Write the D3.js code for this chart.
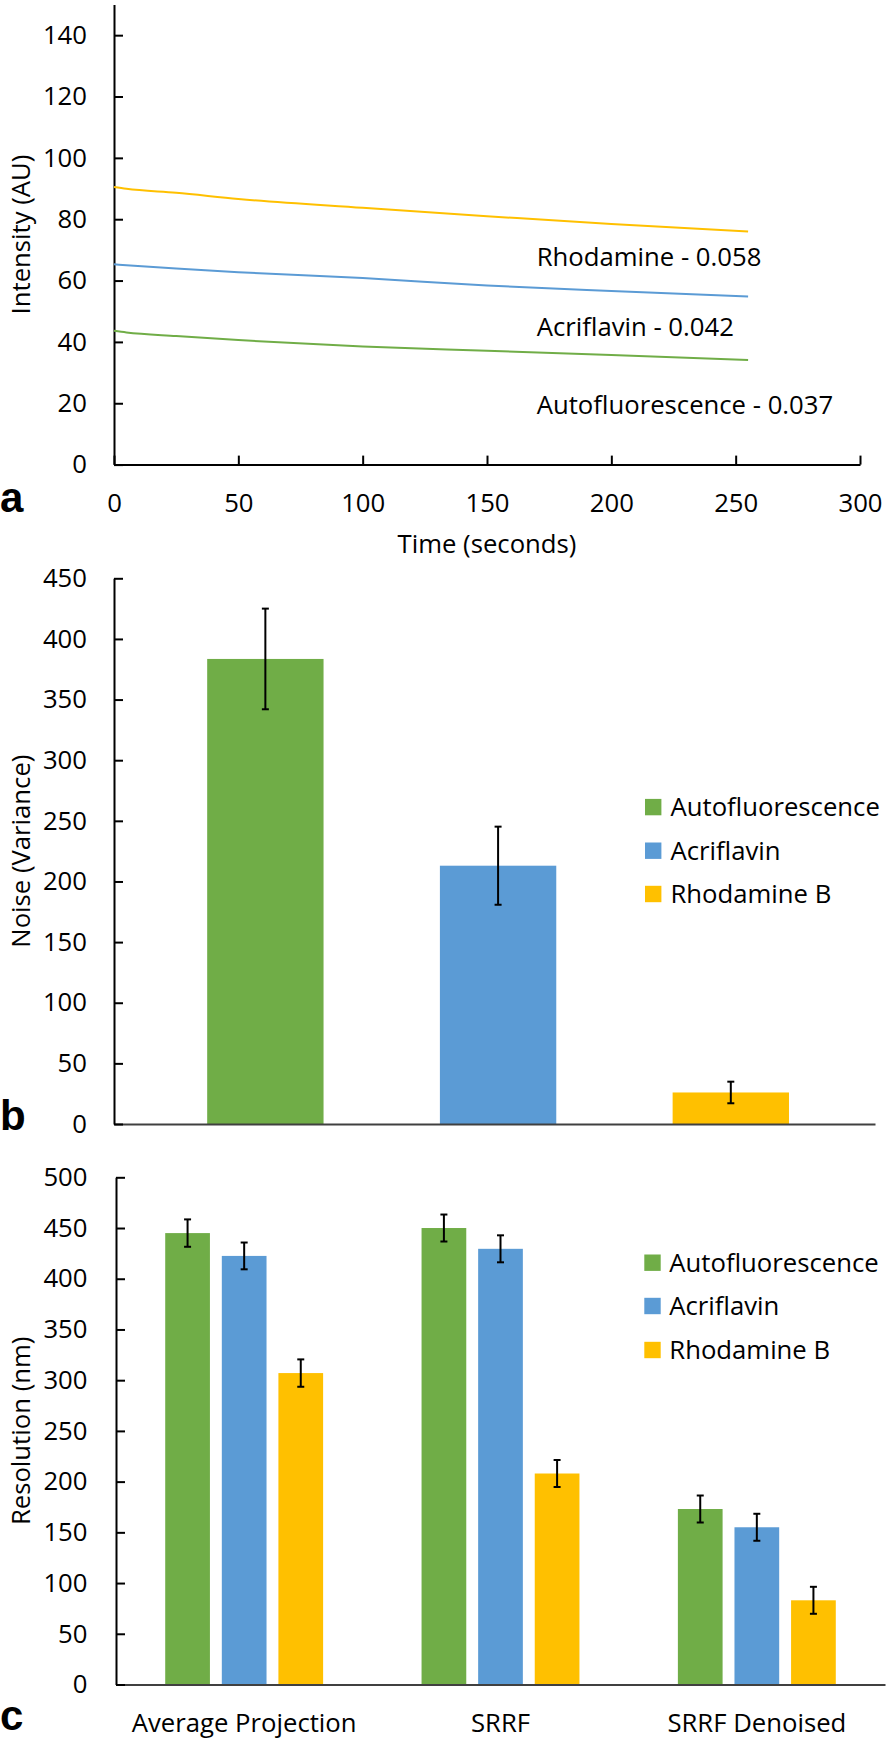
<!DOCTYPE html>
<html>
<head>
<meta charset="utf-8">
<script src="https://cdn.jsdelivr.net/npm/d3@7"></script>
<style>
  html, body { margin: 0; padding: 0; background: #fff; }
  svg { display: block; }
  text { font-family: "Open Sans", sans-serif; fill: #000; }
</style>
</head>
<body>
<svg id="chart" width="890" height="1740"></svg>
<script>
// ---------- Panel a data ----------
const timeSec = [0, 5, 25, 50, 100, 150, 200, 255];
const rhodamineIntensity = [90.5, 89.9, 88.6, 86.6, 83.7, 81.0, 78.4, 76.0];
const acriflavinIntensity = [65.3, 65.0, 63.9, 62.7, 60.8, 58.4, 56.6, 54.8];
const autofluorIntensity = [43.6, 43.1, 41.9, 40.6, 38.5, 37.1, 35.7, 34.1];
const decayLabels = ["Rhodamine - 0.058", "Acriflavin - 0.042", "Autofluorescence - 0.037"];
const intensityTicks = [0, 20, 40, 60, 80, 100, 120, 140];
const timeTicks = [0, 50, 100, 150, 200, 250, 300];

// ---------- Shared series ----------
const seriesNames = ["Autofluorescence", "Acriflavin", "Rhodamine B"];
const seriesColors = ["#70AD47", "#5B9BD5", "#FFC000"];

// ---------- Panel b data ----------
const noiseValues = [383.5, 213, 26];
const noiseErrors = [41.5, 32.2, 8.9];
const noiseTicks = [0, 50, 100, 150, 200, 250, 300, 350, 400, 450];

// ---------- Panel c data ----------
const methods = ["Average Projection", "SRRF", "SRRF Denoised"];
const resAutofluor = [445, 450, 173];
const resAcriflavin = [422.5, 429.5, 155];
const resRhodamine = [307, 208, 83];
const errAutofluor = [13.5, 13.3, 13.3];
const errAcriflavin = [13.2, 13.3, 13.3];
const errRhodamine = [13.5, 13.3, 13.3];
const resolutionTicks = [0, 50, 100, 150, 200, 250, 300, 350, 400, 450, 500];

const FS = 25.7;
const svg = d3.select("#chart");

function styleAxis(g, stroke) {
  g.selectAll("path.domain").attr("stroke", stroke || "#000").attr("stroke-width", 2);
  g.selectAll(".tick line").attr("stroke", "#000").attr("stroke-width", 2);
  g.selectAll(".tick text").attr("font-size", FS).attr("font-family", '"Open Sans", sans-serif').attr("fill", "#000");
}

function yTitle(text, cy) {
  svg.append("text")
    .attr("transform", `translate(30,${cy}) rotate(-90)`)
    .attr("text-anchor", "middle")
    .attr("font-size", FS)
    .text(text);
}

function panelLetter(letter, y) {
  svg.append("text")
    .attr("x", 0).attr("y", y)
    .attr("font-family", '"Liberation Sans", Arial, sans-serif')
    .attr("font-weight", "bold")
    .attr("font-size", 42)
    .style("font-family", '"Liberation Sans", Arial, sans-serif')
    .text(letter);
}

// ================= Panel a =================
{
  const xA = d3.scaleLinear().domain([0, 300]).range([114, 860]);
  const yA = d3.scaleLinear().domain([0, 150]).range([464.6, 4.5]);

  const gx = svg.append("g").attr("transform", `translate(0,${yA(0)})`)
    .call(d3.axisBottom(xA).tickValues(timeTicks).tickSizeInner(-9).tickSizeOuter(0).tickPadding(29));
  styleAxis(gx);
  const gy = svg.append("g").attr("transform", `translate(${xA(0)},0)`)
    .call(d3.axisLeft(yA).tickValues(intensityTicks).tickSizeInner(-9).tickSizeOuter(0).tickPadding(27));
  styleAxis(gy);

  const seriesA = [autofluorIntensity, acriflavinIntensity, rhodamineIntensity];
  const line = d3.line().x((d, i) => xA(timeSec[i])).y(d => yA(d)).curve(d3.curveMonotoneX);
  seriesA.forEach((vals, k) => {
    svg.append("path").datum(vals)
      .attr("d", line)
      .attr("fill", "none")
      .attr("stroke", seriesColors[k])
      .attr("stroke-width", 2);
  });

  // decay-rate annotations, placed in data units
  const labelT = 170;
  const labelV = [64.7, 42.0, 16.6];
  decayLabels.forEach((t, i) => {
    svg.append("text").attr("x", xA(labelT)).attr("y", yA(labelV[i]))
      .attr("font-size", FS).text(t);
  });

  svg.append("text").attr("x", (xA(0) + xA(300)) / 2).attr("y", 553.3)
    .attr("text-anchor", "middle").attr("font-size", FS).text("Time (seconds)");
  yTitle("Intensity (AU)", (yA(0) + yA(150)) / 2);
  panelLetter("a", 511.7);
}

// ================= Panel b =================
{
  const xB = d3.scaleBand().domain(seriesNames).range([114, 875])
    .paddingInner(0.5).paddingOuter(0.385).align(0.52);
  const yB = d3.scaleLinear().domain([0, 450]).range([1124, 578.3]);

  svg.append("g").selectAll("rect").data(seriesNames).join("rect")
    .attr("x", d => xB(d)).attr("width", xB.bandwidth())
    .attr("y", (d, i) => yB(noiseValues[i]))
    .attr("height", (d, i) => yB(0) - yB(noiseValues[i]))
    .attr("fill", (d, i) => seriesColors[i]);

  const eg = svg.append("g").attr("stroke", "#000").attr("stroke-width", 2);
  seriesNames.forEach((s, i) => {
    const cx = xB(s) + xB.bandwidth() / 2;
    const top = yB(noiseValues[i] + noiseErrors[i]);
    const bot = yB(noiseValues[i] - noiseErrors[i]);
    eg.append("line").attr("x1", cx).attr("x2", cx).attr("y1", top).attr("y2", bot);
    eg.append("line").attr("x1", cx - 3.5).attr("x2", cx + 3.5).attr("y1", top).attr("y2", top);
    eg.append("line").attr("x1", cx - 3.5).attr("x2", cx + 3.5).attr("y1", bot).attr("y2", bot);
  });

  const gx = svg.append("g").attr("transform", `translate(0,${yB(0)})`)
    .call(d3.axisBottom(xB).tickValues([]).tickSizeOuter(0));
  styleAxis(gx, "#404040");
  const gy = svg.append("g").attr("transform", `translate(114,0)`)
    .call(d3.axisLeft(yB).tickValues(noiseTicks).tickSizeInner(-9).tickSizeOuter(0).tickPadding(27));
  styleAxis(gy);

  const legY = [807.1, 850.7, 894];
  seriesNames.forEach((s, i) => {
    svg.append("rect").attr("x", 645).attr("y", legY[i] - 8.2).attr("width", 16.4).attr("height", 16.4)
      .attr("fill", seriesColors[i]);
    svg.append("text").attr("x", 670.5).attr("y", legY[i]).attr("dy", "0.357em")
      .attr("font-size", FS).text(s);
  });

  yTitle("Noise (Variance)", (yB(0) + yB(450)) / 2);
  panelLetter("b", 1130);
}

// ================= Panel c =================
{
  const x0 = d3.scaleBand().domain(methods).range([116, 885]).paddingInner(0.384).paddingOuter(0.192);
  const x1 = d3.scaleBand().domain(seriesNames).range([0, x0.bandwidth()]).paddingInner(0.21).paddingOuter(0);
  const yC = d3.scaleLinear().domain([0, 500]).range([1684.5, 1177.3]);

  const vals = [resAutofluor, resAcriflavin, resRhodamine];
  const errs = [errAutofluor, errAcriflavin, errRhodamine];

  const eg = svg.append("g");
  methods.forEach((m, j) => {
    seriesNames.forEach((s, i) => {
      const x = x0(m) + x1(s);
      const v = vals[i][j];
      svg.append("rect").attr("x", x).attr("width", x1.bandwidth())
        .attr("y", yC(v)).attr("height", yC(0) - yC(v))
        .attr("fill", seriesColors[i]);
    });
  });
  const eg2 = svg.append("g").attr("stroke", "#000").attr("stroke-width", 2);
  methods.forEach((m, j) => {
    seriesNames.forEach((s, i) => {
      const cx = x0(m) + x1(s) + x1.bandwidth() / 2;
      const v = vals[i][j], e = errs[i][j];
      const top = yC(v + e), bot = yC(v - e);
      eg2.append("line").attr("x1", cx).attr("x2", cx).attr("y1", top).attr("y2", bot);
      eg2.append("line").attr("x1", cx - 3.5).attr("x2", cx + 3.5).attr("y1", top).attr("y2", top);
      eg2.append("line").attr("x1", cx - 3.5).attr("x2", cx + 3.5).attr("y1", bot).attr("y2", bot);
    });
  });

  const gx = svg.append("g").attr("transform", `translate(0,${yC(0)})`)
    .call(d3.axisBottom(x0).tickSize(0).tickPadding(29));
  styleAxis(gx, "#404040");
  const gy = svg.append("g").attr("transform", `translate(116,0)`)
    .call(d3.axisLeft(yC).tickValues(resolutionTicks).tickSizeInner(-9).tickSizeOuter(0).tickPadding(28.5));
  styleAxis(gy);

  const legY = [1262.7, 1306, 1350];
  seriesNames.forEach((s, i) => {
    svg.append("rect").attr("x", 644.3).attr("y", legY[i] - 8.2).attr("width", 16.4).attr("height", 16.4)
      .attr("fill", seriesColors[i]);
    svg.append("text").attr("x", 669.3).attr("y", legY[i]).attr("dy", "0.357em")
      .attr("font-size", FS).text(s);
  });

  yTitle("Resolution (nm)", (yC(0) + yC(500)) / 2);
  panelLetter("c", 1730);
}
</script>
</body>
</html>
